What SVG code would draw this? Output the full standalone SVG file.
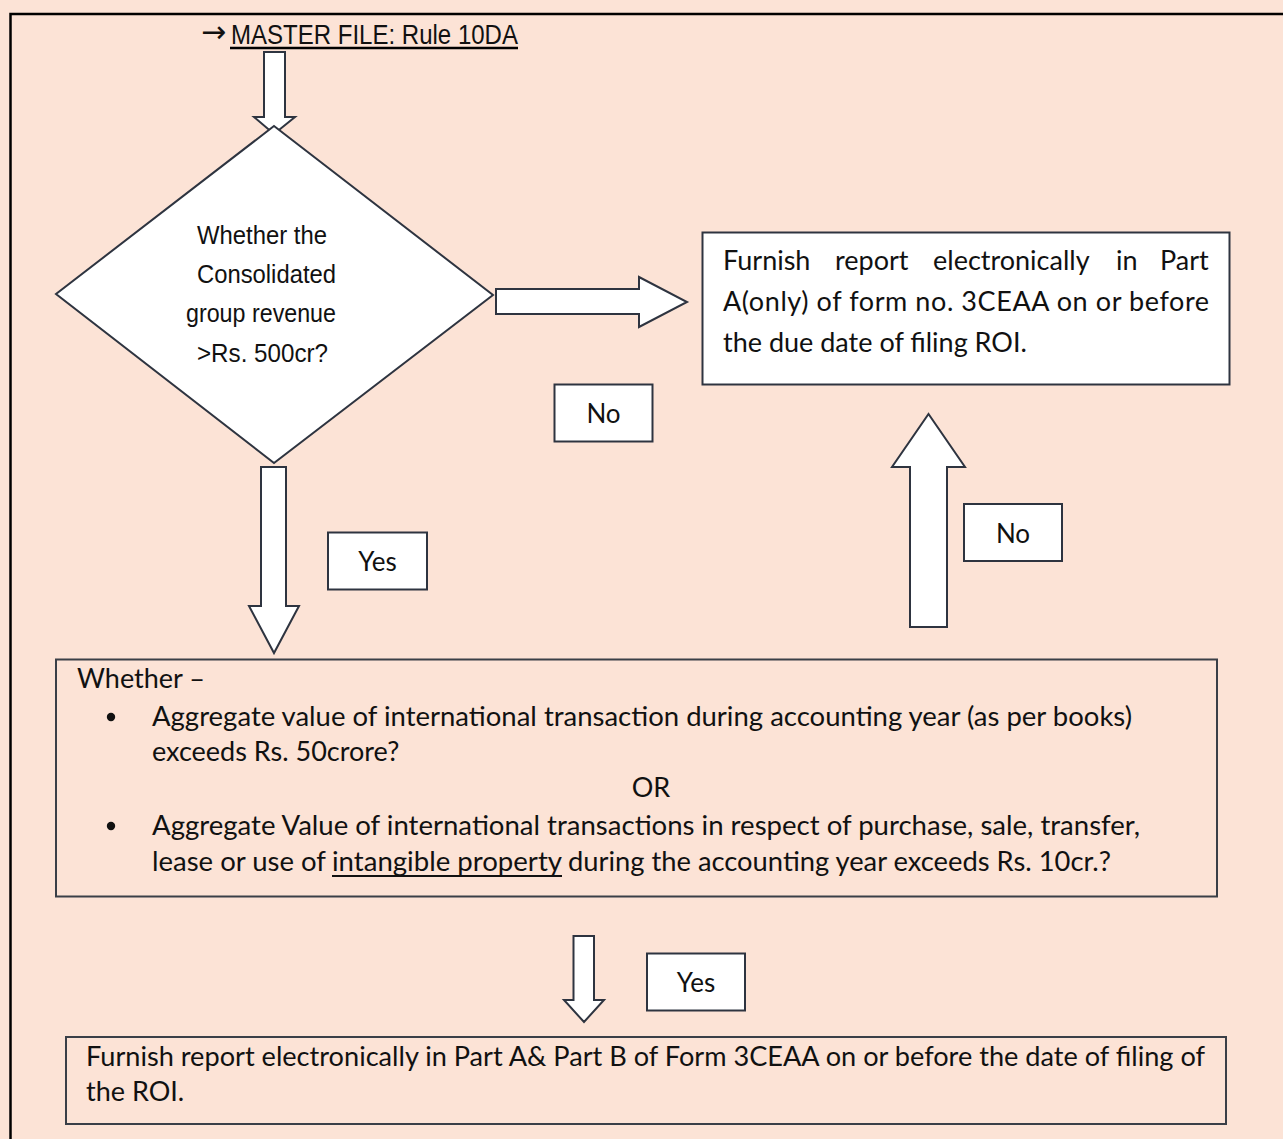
<svg xmlns="http://www.w3.org/2000/svg" width="1283" height="1139" viewBox="0 0 1283 1139">
  <style>
    .shape { fill: #ffffff; stroke: #2e3440; stroke-width: 2; stroke-linejoin: miter; }
    .panel { fill: #fce3d6; stroke: #3a3f47; stroke-width: 2; }
    .narrow { font-family: "Liberation Sans", Arial, sans-serif; fill: #111; }
    .body { font-family: Lato, "Open Sans", sans-serif; font-size: 27px; fill: #111; }
    .lbl { font-family: Lato, "Open Sans", sans-serif; font-size: 26px; fill: #111; text-anchor: middle; }
  </style>

  <!-- page background and frame -->
  <rect x="0" y="0" width="1283" height="1139" fill="#fce3d6"/>
  <path d="M10.5 1139 V14 H1283" fill="none" stroke="#000" stroke-width="2.5"/>

  <!-- heading -->
  <g id="heading">
    <text x="201" y="42" font-family="'DejaVu Sans', sans-serif" font-size="30" fill="#111">→</text>
    <text class="narrow" x="231" y="44" font-size="28" textLength="287" lengthAdjust="spacingAndGlyphs">MASTER FILE: Rule 10DA</text>
    <line x1="230" y1="48" x2="518" y2="48" stroke="#000" stroke-width="2.5"/>
  </g>

  <!-- block arrows -->
  <g id="connectors">
    <path class="shape" d="M264 52 H285 V117 H295 L274 134 L254 117 H264 Z"/>
    <path class="shape" d="M261 467 H286 V606 H299 L274 653 L249 606 H261 Z"/>
    <path class="shape" d="M496 289 H639 V277 L687 302 L639 327 V314 H496 Z"/>
    <path class="shape" d="M910 627 V467 H892 L928.5 414 L965 467 H947 V627 Z"/>
    <path class="shape" d="M573.5 936 H594 V1000 H604 L584 1022 L564 1000 H573.5 Z"/>
  </g>

  <!-- decision on group revenue -->
  <g id="revenue-check">
    <polygon class="shape" points="274,126 493,295 274,463 56,294"/>
    <text class="narrow" x="197" y="244" font-size="26" textLength="130" lengthAdjust="spacingAndGlyphs">Whether the</text>
    <text class="narrow" x="197" y="283" font-size="26" textLength="139" lengthAdjust="spacingAndGlyphs">Consolidated</text>
    <text class="narrow" x="186" y="322" font-size="26" textLength="150" lengthAdjust="spacingAndGlyphs">group revenue</text>
    <text class="narrow" x="197" y="362" font-size="26" textLength="131" lengthAdjust="spacingAndGlyphs">&gt;Rs. 500cr?</text>
  </g>

  <!-- Part A only outcome -->
  <g id="part-a-only">
    <rect class="shape" x="702.5" y="232.5" width="527" height="152"/>
    <text class="body" y="270">
      <tspan x="723">Furnish</tspan><tspan x="835">report</tspan><tspan x="933">electronically</tspan><tspan x="1116">in</tspan><tspan x="1160">Part</tspan>
    </text>
    <text class="body" x="723" y="311" textLength="486" lengthAdjust="spacing">A(only) of form no. 3CEAA on or before</text>
    <text class="body" x="723" y="352">the due date of filing ROI.</text>
  </g>

  <!-- branch labels -->
  <g id="label-no-1">
    <rect class="shape" x="554.5" y="384.5" width="98" height="57"/>
    <text class="lbl" x="603.5" y="423">No</text>
  </g>
  <g id="label-yes-1">
    <rect class="shape" x="328" y="532.5" width="99" height="57"/>
    <text class="lbl" x="377.5" y="571">Yes</text>
  </g>
  <g id="label-no-2">
    <rect class="shape" x="964" y="504" width="98" height="57"/>
    <text class="lbl" x="1013" y="543">No</text>
  </g>
  <g id="label-yes-2">
    <rect class="shape" x="647" y="953.5" width="98" height="57"/>
    <text class="lbl" x="696" y="992">Yes</text>
  </g>

  <!-- transaction value test -->
  <g id="transaction-check">
    <rect class="panel" x="56" y="659.5" width="1161" height="237"/>
    <text class="body" x="77" y="688">Whether –</text>
    <circle cx="111" cy="717" r="4.2" fill="#111"/>
    <text class="body" x="152" y="726" textLength="980" lengthAdjust="spacingAndGlyphs">Aggregate value of international transaction during accounting year (as per books)</text>
    <text class="body" x="152" y="761">exceeds Rs. 50crore?</text>
    <text class="body" x="651" y="797" text-anchor="middle">OR</text>
    <circle cx="111" cy="826" r="4.2" fill="#111"/>
    <text class="body" x="152" y="835" textLength="988" lengthAdjust="spacingAndGlyphs">Aggregate Value of international transactions in respect of purchase, sale, transfer,</text>
    <text class="body" x="152" y="871" textLength="174" lengthAdjust="spacingAndGlyphs">lease or use of</text>
    <text class="body" x="332" y="871" textLength="230" lengthAdjust="spacingAndGlyphs">intangible property</text>
    <line x1="332" y1="876" x2="562" y2="876" stroke="#111" stroke-width="1.8"/>
    <text class="body" x="568" y="871" textLength="543" lengthAdjust="spacingAndGlyphs">during the accounting year exceeds Rs. 10cr.?</text>
  </g>

  <!-- Part A and Part B outcome -->
  <g id="part-a-and-b">
    <rect class="panel" x="66" y="1037" width="1160" height="87"/>
    <text class="body" x="86" y="1066" textLength="1119" lengthAdjust="spacingAndGlyphs">Furnish report electronically in Part A&amp; Part B of Form 3CEAA on or before the date of filing of</text>
    <text class="body" x="86" y="1101">the ROI.</text>
  </g>
</svg>
